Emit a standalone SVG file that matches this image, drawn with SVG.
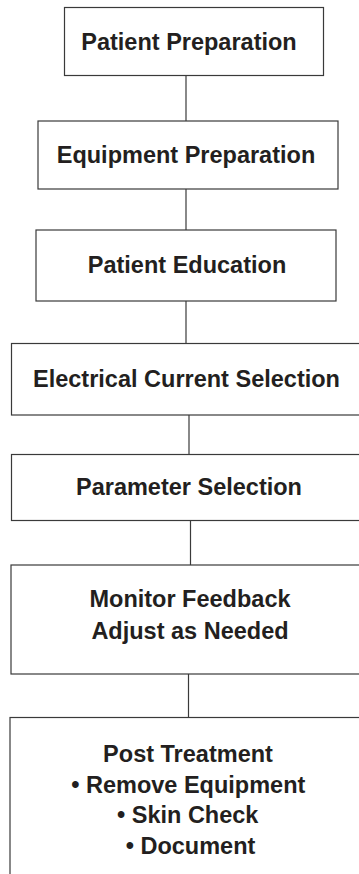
<svg xmlns="http://www.w3.org/2000/svg" width="359" height="874" viewBox="0 0 359 874">
<style>
.box{fill:#ffffff;stroke:#3a3a3a;stroke-width:1.2}
.lbl{font-family:"Liberation Sans",Arial,sans-serif;font-weight:bold;font-size:23.5px;fill:#231f20;text-anchor:middle}
.conn{stroke:#3a3a3a;stroke-width:1.2;fill:none}
</style>
<rect x="0" y="0" width="359" height="874" fill="#ffffff"/>
<g id="connectors">
<line class="conn" x1="186" y1="75.5" x2="186" y2="121"/>
<line class="conn" x1="186" y1="189" x2="186" y2="230"/>
<line class="conn" x1="186" y1="301" x2="186" y2="343.5"/>
<line class="conn" x1="189" y1="415" x2="189" y2="454.5"/>
<line class="conn" x1="190.5" y1="520.5" x2="190.5" y2="565"/>
<line class="conn" x1="188.5" y1="674" x2="188.5" y2="717.5"/>
</g>
<g id="patient-preparation">
<rect class="box" x="64.5" y="7.5" width="259" height="68"/>
<text class="lbl" x="189" y="50">Patient Preparation</text>
</g>
<g id="equipment-preparation">
<rect class="box" x="38" y="121" width="300" height="68"/>
<text class="lbl" x="186" y="163.3">Equipment Preparation</text>
</g>
<g id="patient-education">
<rect class="box" x="36" y="230" width="300" height="71"/>
<text class="lbl" x="187" y="273.3">Patient Education</text>
</g>
<g id="electrical-current-selection">
<rect class="box" x="11.5" y="343.5" width="360" height="71.5"/>
<text class="lbl" x="186.5" y="386.7">Electrical Current Selection</text>
</g>
<g id="parameter-selection">
<rect class="box" x="11.5" y="454.5" width="360" height="66"/>
<text class="lbl" x="189" y="495">Parameter Selection</text>
</g>
<g id="monitor-feedback">
<rect class="box" x="11" y="565" width="360" height="109"/>
<text class="lbl" x="190" y="606.7">Monitor Feedback</text>
<text class="lbl" x="190" y="639.3">Adjust as Needed</text>
</g>
<g id="post-treatment">
<rect class="box" x="10" y="717.5" width="360" height="170"/>
<text class="lbl" x="188" y="761.7">Post Treatment</text>
<text class="lbl" x="188.3" y="792.7">• Remove Equipment</text>
<text class="lbl" x="187.7" y="823.3">• Skin Check</text>
<text class="lbl" x="190.5" y="854.3">• Document</text>
</g>
</svg>
